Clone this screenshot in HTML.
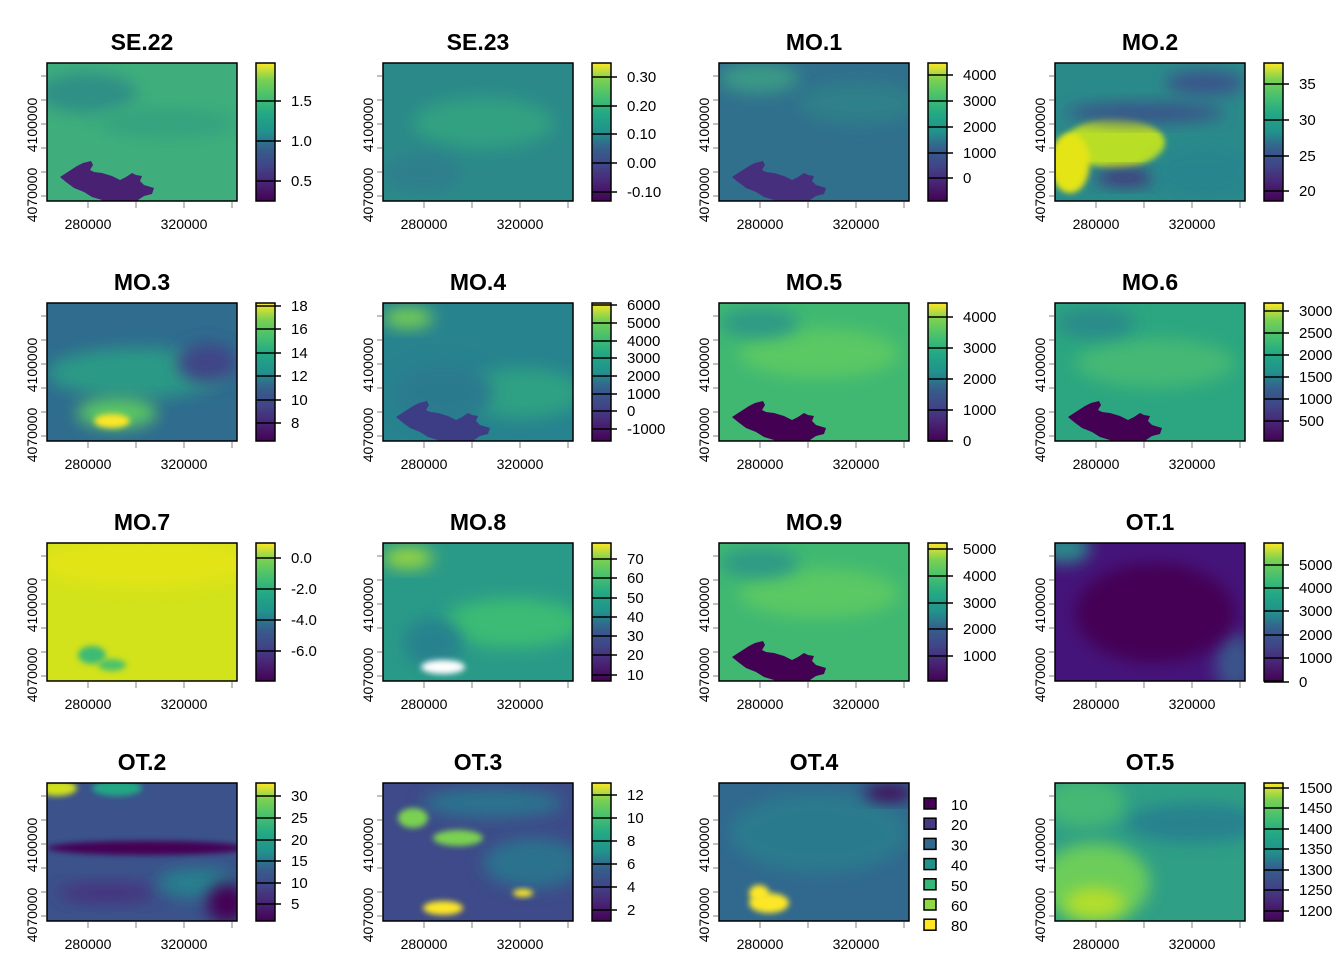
<!DOCTYPE html>
<html><head><meta charset="utf-8"><style>
html,body{margin:0;padding:0;background:#fff;}
svg{display:block;font-family:"Liberation Sans",Arial,sans-serif;}
</style></head><body>
<svg id="s" width="1344" height="960" xmlns="http://www.w3.org/2000/svg">
<defs>
<linearGradient id="vir" x1="0" y1="1" x2="0" y2="0">
<stop offset="0" stop-color="#440154"/><stop offset="0.13" stop-color="#482475"/><stop offset="0.25" stop-color="#414487"/><stop offset="0.38" stop-color="#355f8d"/><stop offset="0.5" stop-color="#21918c"/><stop offset="0.63" stop-color="#22a884"/><stop offset="0.75" stop-color="#44bf70"/><stop offset="0.88" stop-color="#7ad151"/><stop offset="1" stop-color="#fde725"/>
</linearGradient>
<filter id="bl" x="-50%" y="-50%" width="200%" height="200%"><feGaussianBlur stdDeviation="8"/></filter>
<filter id="bs" x="-50%" y="-50%" width="200%" height="200%"><feGaussianBlur stdDeviation="3"/></filter>
</defs>
</svg>
<script>
var S=document.getElementById('s');var h='';
var P=[
{t:'SE.22',bg:'#3fae7c',tk:[['1.5',101],['1.0',141],['0.5',181]],sh:[['e',40,30,50,20,'#2f8f86',1],['e',120,60,70,15,'#35a37f',1],['r',0,0,0,0,'#482173',0]]},
{t:'SE.23',bg:'#2b8a89',tk:[['0.30',77],['0.20',106],['0.10',134],['0.00',163],['-0.10',192]],sh:[['e',100,60,70,25,'#33a181',1],['e',40,110,40,20,'#2f7f8c',1]]},
{t:'MO.1',bg:'#30708d',tk:[['4000',75],['3000',101],['2000',127],['1000',153],['0',178]],sh:[['e',40,15,40,15,'#3b9a86',1],['e',140,40,60,20,'#2f8089',1],['r',0,0,0,0,'#46307e',0]]},
{t:'MO.2',bg:'#2a8a8a',tk:[['35',84],['30',120],['25',156],['20',191]],sh:[['e',60,80,50,25,'#b9de28',2],['e',15,100,20,30,'#e4e419',2],['e',90,50,80,10,'#3a518a',1],['e',150,20,40,12,'#3b528b',1],['e',70,115,30,8,'#472d7b',1],['e',150,110,50,25,'#25858e',1]]},
{t:'MO.3',bg:'#2f6c8e',tk:[['18',66],['16',89],['14',113],['12',136],['10',160],['8',183]],sh:[['e',90,70,90,25,'#2a9a86',1],['e',70,110,40,15,'#5ac864',1],['e',65,118,18,7,'#fde725',2],['e',160,60,30,20,'#404588',1]]},
{t:'MO.4',bg:'#27838e',tk:[['6000',65],['5000',83],['4000',101],['3000',118],['2000',136],['1000',154],['0',171],['-1000',189]],sh:[['e',25,15,25,10,'#7ad151',1],['e',140,90,60,25,'#2fa083',1],['e',60,90,50,30,'#2c7a8e',1],['r',0,0,0,0,'#3d3d85',0]]},
{t:'MO.5',bg:'#40b872',tk:[['4000',77],['3000',108],['2000',139],['1000',170],['0',201]],sh:[['e',100,50,80,25,'#5ac864',1],['e',40,20,40,15,'#2e9a86',1],['r',0,0,0,0,'#440154',0]]},
{t:'MO.6',bg:'#2ba680',tk:[['3000',71],['2500',93],['2000',115],['1500',137],['1000',159],['500',181]],sh:[['e',100,60,80,25,'#44b874',1],['e',40,20,40,15,'#2a8a8a',1],['r',0,0,0,0,'#440154',0]]},
{t:'MO.7',bg:'#d2e21b',tk:[['0.0',78],['-2.0',109],['-4.0',140],['-6.0',171]],sh:[['e',100,20,110,25,'#e2e418',1],['e',45,112,14,9,'#3dbb74',2],['e',65,122,14,6,'#4cc26c',2]]},
{t:'MO.8',bg:'#2a9a88',tk:[['70',79],['60',98],['50',118],['40',137],['30',156],['20',175],['10',195]],sh:[['e',25,15,25,10,'#9fda3a',1],['e',130,80,70,25,'#3bbb75',1],['e',50,100,30,25,'#26828e',1],['e',60,124,22,7,'#ffffff',2]]},
{t:'MO.9',bg:'#40b872',tk:[['5000',69],['4000',96],['3000',123],['2000',149],['1000',176]],sh:[['e',100,50,80,25,'#5ac864',1],['e',40,20,40,15,'#2e9a86',1],['r',0,0,0,0,'#440154',0]]},
{t:'OT.1',bg:'#45147a',tk:[['5000',85],['4000',108],['3000',131],['2000',155],['1000',178],['0',202]],sh:[['e',10,5,25,15,'#2a8a8a',1],['e',180,120,20,30,'#3b528b',1],['e',100,70,80,50,'#440154',1]]},
{t:'OT.2',bg:'#3b528b',tk:[['30',76],['25',98],['20',120],['15',141],['10',163],['5',184]],sh:[['e',10,5,20,8,'#d0e11c',2],['e',70,5,25,8,'#22a884',2],['e',100,65,100,7,'#440154',2],['e',60,110,50,10,'#46307e',1],['e',150,100,40,15,'#27808e',1],['e',180,120,20,20,'#440154',1]]},
{t:'OT.3',bg:'#3e4a89',tk:[['12',75],['10',98],['8',121],['6',144],['4',167],['2',190]],sh:[['e',110,20,70,15,'#2c738e',1],['e',30,35,15,10,'#7ad151',2],['e',75,55,25,8,'#7ad151',2],['e',150,80,50,25,'#2c728e',1],['e',60,125,20,7,'#fde725',2],['e',140,110,10,4,'#fde725',2]]},
{t:'OT.4',bg:'#31688e',tk:null,sh:[['e',100,50,90,40,'#2b7a8e',1],['e',50,120,20,10,'#fde725',2],['e',40,110,10,8,'#fde725',2],['e',170,10,25,8,'#440154',1]]},
{t:'OT.5',bg:'#2f9f85',tk:[['1500',68],['1450',88],['1400',109],['1350',129],['1300',150],['1250',170],['1200',191]],sh:[['e',40,100,55,40,'#6ccd5a',1],['e',40,120,30,15,'#b5de2b',1],['e',140,40,70,20,'#26828e',1],['e',30,20,40,25,'#44b874',1]]}
];
var RES='<path d="M30 103 l6 -3 l8 -2 l2 4 l-3 5 l4 2 l8 1 l10 3 l8 4 l6 -3 l6 -4 l4 2 l6 1 l-2 5 l4 4 l10 3 l-2 6 l-8 2 l-6 4 l4 8 h-36 l-4 -8 l-10 -3 l-8 -5 l-10 -4 l-8 -6 l-6 -5z" fill="COL"/>';
for(var i=0;i<16;i++){
var c=i%4,r=Math.floor(i/4),x0=47+336*c,y0=63+240*r,p=P[i];
h+='<text x="'+(x0+95)+'" y="'+(50+240*r)+'" font-size="23" font-weight="bold" text-anchor="middle">'+p.t+'</text>';
h+='<svg x="'+x0+'" y="'+y0+'" width="190" height="138"><rect width="190" height="138" fill="'+p.bg+'"/>';
p.sh.forEach(function(s){
 if(s[0]=='e')h+='<ellipse cx="'+s[1]+'" cy="'+s[2]+'" rx="'+s[3]+'" ry="'+s[4]+'" fill="'+s[5]+'"'+(s[6]==1?' filter="url(#bl)"':(s[6]==2?' filter="url(#bs)"':''))+'/>';
 else h+=RES.replace('COL',s[5]);
});
h+='</svg>';
h+='<rect x="'+x0+'" y="'+y0+'" width="190" height="138" fill="none" stroke="#000" stroke-width="1.5"/>';
[41,89,137,185].forEach(function(d){h+='<line x1="'+(x0+d)+'" y1="'+(y0+139)+'" x2="'+(x0+d)+'" y2="'+(y0+145)+'" stroke="#aaa" stroke-width="1.5"/>';});
[13,37,61,85,109,133].forEach(function(d){h+='<line x1="'+(x0-6)+'" y1="'+(y0+d)+'" x2="'+(x0-1)+'" y2="'+(y0+d)+'" stroke="#aaa" stroke-width="1.5"/>';});
h+='<text x="'+(x0+41)+'" y="'+(y0+166)+'" font-size="14" text-anchor="middle">280000</text>';
h+='<text x="'+(x0+137)+'" y="'+(y0+166)+'" font-size="14" text-anchor="middle">320000</text>';
h+='<text transform="translate('+(x0-10)+','+(y0+62)+') rotate(-90)" font-size="14" text-anchor="middle">4100000</text>';
h+='<text transform="translate('+(x0-10)+','+(y0+132)+') rotate(-90)" font-size="14" text-anchor="middle">4070000</text>';
if(p.tk){
 h+='<rect x="'+(x0+209)+'" y="'+y0+'" width="19" height="138" fill="url(#vir)" stroke="#000" stroke-width="1.5"/>';
 p.tk.forEach(function(t){var yy=t[1]-63+y0;h+='<line x1="'+(x0+209)+'" y1="'+yy+'" x2="'+(x0+234)+'" y2="'+yy+'" stroke="#000" stroke-width="1.5"/><text x="'+(x0+244)+'" y="'+(yy+5)+'" font-size="15">'+t[0]+'</text>';});
}else{
 var cols=['#440154','#443983','#31688e','#21918c','#35b779','#8fd744','#fde725'],lab=['10','20','30','40','50','60','80'];
 for(var k=0;k<7;k++){var yy=799+k*20.2;h+='<rect x="924" y="'+(yy-1)+'" width="12" height="11" fill="'+cols[k]+'" stroke="#000" stroke-width="1.5"/><text x="951" y="'+(yy+11)+'" font-size="15">'+lab[k]+'</text>';}
}
}
S.insertAdjacentHTML('beforeend',h);
</script>
</body></html>
